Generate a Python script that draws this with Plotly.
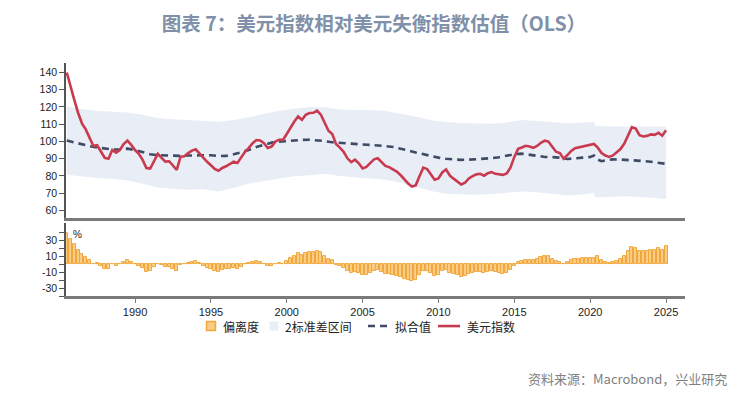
import plotly.graph_objects as go
from plotly.subplots import make_subplots

# ---- data ----
quarters = [1985.5 + 0.25 * i for i in range(159)]

dxy = [
    140, 131.5,
    124, 116.5, 110.5, 107,
    102, 97.5, 97.8, 94.5,
    90.5, 90, 95, 93.5,
    95, 98.5, 100.5, 98,
    95, 92.8, 89.3, 84.5,
    84.2, 88.5, 92.8, 90.5,
    88.3, 88.5, 86, 83.5,
    91.2, 91.4, 93.2, 94.7,
    95.4, 93, 90.2, 88.2,
    86.2, 84, 83, 84.6,
    85.6, 87, 88.3, 87.5,
    90.8, 94, 96.3, 99,
    100.8, 100.6, 99, 96.2,
    97, 99.9, 101, 100.9,
    104.3, 108, 111.5, 114.5,
    112.5, 115.5, 116.5, 116.6,
    117.8, 115.5, 111, 106.2,
    104.3, 98.5, 96.4, 94,
    90.2, 88, 89.4, 87.3,
    84.3, 85.2, 87.4, 89.6,
    90.2, 88.2, 85.8, 85.1,
    83.8, 82.5, 80.5, 77.9,
    75.6, 73.8, 74.5, 79.8,
    84.8, 84, 80.8, 77.8,
    78.5, 82, 83.8, 80.2,
    78.4, 76.8, 75, 76,
    78.5, 79.9, 80.9, 81.2,
    80.1, 81.5, 82.2, 81.2,
    80.8, 80.6, 81.4, 84.9,
    91, 95.7, 96.5, 97.5,
    97.1, 96.3, 97.4, 99.2,
    100.4, 99.9, 96.9, 94,
    93.2, 89.9, 92.1, 94.5,
    96.1, 96.6, 97.2, 97.7,
    98.2, 98.5, 96.4, 93.3,
    91.8, 91, 91.9, 93.7,
    95.6, 98.8, 103.8, 108.3,
    107.5, 103.6, 102.9, 103.2,
    104.1, 103.8, 105, 103.3,
    106.5,
]

deviation = [
    39.3, 31.6,
    24.9, 18.0, 12.5, 9.5,
    4.8, 0.6, 1.3, -1.7,
    -5.5, -5.8, -0.3, -1.9,
    -0.3, 3.1, 4.9, 2.7,
    0.0, -1.7, -4.8, -9.3,
    -9.1, -4.1, 0.9, -1.5,
    -3.8, -3.4, -6.0, -8.8,
    -0.4, -0.3, 1.5, 3.0,
    3.7, 1.0, -2.2, -4.2,
    -6.3, -8.4, -9.3, -7.6,
    -6.6, -5.5, -4.5, -6.0,
    -3.0, -0.3, 1.4, 3.2,
    4.1, 3.2, 0.8, -2.6,
    -2.3, 0.3, 1.1, 0.8,
    4.0, 7.5, 10.8, 13.6,
    11.5, 14.4, 15.3, 15.6,
    16.9, 14.9, 10.8, 6.4,
    4.8, -0.8, -2.7, -5.0,
    -8.7, -10.8, -9.2, -11.2,
    -14.2, -13.1, -10.8, -8.5,
    -7.8, -9.6, -11.8, -12.3,
    -13.4, -14.4, -16.1, -18.3,
    -20.3, -21.7, -20.4, -14.2,
    -8.3, -8.6, -11.6, -14.5,
    -13.4, -9.1, -6.8, -10.5,
    -12.3, -14.0, -16.0, -14.9,
    -12.2, -10.7, -9.7, -9.5,
    -10.9, -9.5, -9.0, -10.3,
    -11.0, -11.7, -11.3, -7.9,
    -1.7, 3.2, 3.9, 5.3,
    5.2, 4.8, 6.4, 8.7,
    10.3, 9.8, 6.6, 3.6,
    2.9, -0.3, 2.6, 5.1,
    6.8, 7.0, 7.3, 7.6,
    7.9, 7.3, 10.5, 5.4,
    3.1, 1.9, 2.6, 4.6,
    6.8, 10.5, 16.2, 21.3,
    20.5, 16.5, 16.1, 16.7,
    18.0, 18.1, 19.9, 18.3,
    22.4,
]

fit_years = [
    1985.5, 1986.0, 1986.5, 1987.0, 1987.5, 1988.0, 1988.5, 1989.0, 1989.5, 1990.0,
    1990.5, 1991.0, 1991.5, 1992.0, 1992.5, 1993.0, 1993.5, 1994.0, 1994.5, 1995.0,
    1995.5, 1996.0, 1996.5, 1997.0, 1997.5, 1998.0, 1998.5, 1999.0, 1999.5, 2000.0,
    2000.5, 2001.0, 2001.5, 2002.0, 2002.5, 2003.0, 2003.5, 2004.0, 2004.5, 2005.0,
    2005.5, 2006.0, 2006.5, 2007.0, 2007.5, 2008.0, 2008.5, 2009.0, 2009.5, 2010.0,
    2010.5, 2011.0, 2011.5, 2012.0, 2012.5, 2013.0, 2013.5, 2014.0, 2014.5, 2015.0,
    2015.5, 2016.0, 2016.5, 2017.0, 2017.5, 2018.0, 2018.5, 2019.0, 2019.5, 2020.0,
    2020.25, 2020.5, 2020.75, 2021.0, 2021.5, 2022.0, 2022.5, 2023.0, 2023.5, 2024.0,
    2024.5, 2025.0,
]
fit_values = [
    100.5, 99.3, 98.2, 97.3, 96.5, 95.8, 95.3, 95.3, 95.8, 95.0,
    93.8, 92.6, 92.0, 91.8, 91.5, 91.6, 91.8, 92.0, 92.2, 92.0,
    91.5, 91.6, 92.5, 93.6, 95.0, 96.8, 98.2, 99.3, 99.9, 100.3,
    100.6, 100.9, 101.0, 100.8, 100.2, 99.5, 99.1, 98.8, 98.5, 98.2,
    98.0, 97.8, 97.3, 96.8, 96.0, 94.8, 93.6, 92.5, 91.4, 90.6,
    89.9, 89.4, 89.3, 89.4, 89.6, 89.9, 90.3, 90.8, 91.8, 92.6,
    92.9, 92.3, 91.5, 91.0, 90.9, 90.6, 89.8, 90.0, 90.6, 91.0,
    91.8, 89.5, 88.5, 89.0, 89.6, 89.5, 89.3, 89.2, 88.6, 88.2,
    87.6, 87.0,
]

band_years = [
    1985.5, 1986.5, 1987.5, 1988.5, 1989.5, 1990.5, 1991.5, 1992.5, 1993.5, 1994.5,
    1995.5, 1996.5, 1997.5, 1998.5, 1999.5, 2000.5, 2001.5, 2002.5, 2003.5, 2004.5,
    2005.5, 2006.5, 2007.5, 2008.5, 2009.5, 2010.5, 2011.5, 2012.5, 2013.5, 2014.5,
    2015.5, 2016.5, 2017.5, 2018.5, 2019.5, 2020.25, 2020.35, 2021.5, 2022.5, 2023.5,
    2024.5, 2025.0,
]
band_upper = [
    120.2, 118.6, 117.8, 117.4, 116.8, 115.5, 113.6, 112.8, 112.4, 112.2,
    111.4, 112.5, 114.0, 116.0, 117.8, 119.0, 120.0, 119.8, 118.5, 118.2,
    118.2, 117.6, 116.2, 114.5, 112.3, 111.2, 110.7, 110.4, 110.2, 111.0,
    112.4, 111.8, 111.0, 110.5, 111.0, 111.4, 108.8, 108.6, 108.6, 108.6,
    108.6, 108.6,
]
band_lower = [
    80.6, 79.6, 78.8, 78.2, 77.3, 75.5, 73.3, 72.5, 72.0, 72.3,
    71.0, 73.0, 75.5, 77.0, 78.5, 79.8, 80.4, 81.2, 80.0, 79.2,
    78.8, 77.8, 76.0, 73.5, 71.2, 69.6, 69.2, 69.1, 69.5, 70.2,
    71.0, 70.5, 69.6, 68.6, 69.3, 70.0, 67.4, 68.0, 68.2, 67.6,
    67.0, 66.6,
]

year_ticks = [1990, 1995, 2000, 2005, 2010, 2015, 2020, 2025]
top_ticks = [60, 70, 80, 90, 100, 110, 120, 130, 140]
bottom_tickvals = [-40, -30, -20, -10, 0, 10, 20, 30, 40]
bottom_ticktext = ["", "-30", "", "-10", "", "10", "", "30", ""]
legend_names = ["偏离度", "2标准差区间", "拟合值", "美元指数"]

COL_BAR = "#F9CD86"
COL_BAR_EDGE = "#F2A73C"
COL_BAND = "#E9EEF6"
COL_FIT = "#3F4B66"
COL_DXY = "#C93A4E"

# ---- figure ----
fig = make_subplots(rows=2, cols=1, shared_xaxes=False,
                    row_heights=[0.665, 0.335], vertical_spacing=0.0)

fig.add_trace(go.Bar(
    x=quarters, y=deviation, name=legend_names[0],
    marker=dict(color=COL_BAR, line=dict(color=COL_BAR_EDGE, width=1)),
    width=0.2,
), row=2, col=1)

fig.add_trace(go.Scatter(
    x=band_years, y=band_lower, mode="lines", line=dict(width=0, color="rgba(0,0,0,0)"),
    hoverinfo="skip",
), row=1, col=1)
fig.add_trace(go.Scatter(
    x=band_years, y=band_upper, mode="lines", line=dict(width=0, color="rgba(0,0,0,0)"),
    fill="tonexty", fillcolor=COL_BAND, name=legend_names[1],
), row=1, col=1)

fig.add_trace(go.Scatter(
    x=fit_years, y=fit_values, mode="lines", name=legend_names[2],
    line=dict(color=COL_FIT, width=2.6, dash="7px,5px"),
), row=1, col=1)

fig.add_trace(go.Scatter(
    x=quarters, y=dxy, mode="lines", name=legend_names[3],
    line=dict(color=COL_DXY, width=2.6),
), row=1, col=1)

xrange = [1985.45, 2026.25]
fig.update_xaxes(range=xrange, showgrid=False, zeroline=False,
                 showline=True, linecolor="#7A7A7A", linewidth=2.5,
                 tickvals=year_ticks, showticklabels=False, ticks="", row=1, col=1)
fig.update_xaxes(range=xrange, showgrid=False, zeroline=False,
                 showline=True, linecolor="#7A7A7A", linewidth=2.5,
                 tickvals=year_ticks, ticks="outside", ticklen=4, tickcolor="#7A7A7A",
                 tickfont=dict(family="Liberation Sans", size=11, color="#222"),
                 row=2, col=1)

fig.update_yaxes(range=[55.6, 145.5], tickvals=top_ticks, showgrid=False, zeroline=False,
                 showline=True, linecolor="#555", linewidth=1.5,
                 ticks="outside", ticklen=5, tickcolor="#555",
                 tickfont=dict(family="Liberation Sans", size=10.5, color="#222"),
                 row=1, col=1)
fig.update_yaxes(range=[-40, 52], tickvals=bottom_tickvals, ticktext=bottom_ticktext,
                 showgrid=False, zeroline=False,
                 showline=True, linecolor="#555", linewidth=1.5,
                 ticks="outside", ticklen=5, tickcolor="#555",
                 tickfont=dict(family="Liberation Sans", size=10.5, color="#222"),
                 row=2, col=1)

# page has an 8px body margin; figure is sized/offset to compensate
fig.update_layout(
    width=734, height=387,
    margin=dict(l=58, r=57, t=55, b=99),
    paper_bgcolor="white", plot_bgcolor="white",
    bargap=0,
    title=dict(text="<b>图表 7：美元指数相对美元失衡指数估值（OLS）</b>",
               x=0.4986, xanchor="center", y=0.958, yanchor="middle",
               font=dict(family="Noto Sans CJK SC", size=19.5, color="#8090A8")),
    showlegend=False,
)

fig.layout.yaxis.domain = [0.335, 1.0]
fig.layout.yaxis2.domain = [0.0, 0.313]

# ---- custom legend (paper coordinates) ----
ly = -0.129
lfont = dict(family="Noto Sans CJK SC", size=12, color="#222")
fig.add_shape(type="rect", xref="paper", yref="paper", x0=0.2270, x1=0.2415,
              y0=ly - 0.0195, y1=ly + 0.0195,
              fillcolor=COL_BAR, line=dict(color=COL_BAR_EDGE, width=1.5))
fig.add_shape(type="rect", xref="paper", yref="paper", x0=0.3288, x1=0.3433,
              y0=ly - 0.0195, y1=ly + 0.0195,
              fillcolor=COL_BAND, line=dict(width=0))
fig.add_shape(type="line", xref="paper", yref="paper", x0=0.4879, x1=0.5234,
              y0=ly, y1=ly, line=dict(color=COL_FIT, width=2.6, dash="7px,5px"))
fig.add_shape(type="line", xref="paper", yref="paper", x0=0.6010, x1=0.6365,
              y0=ly, y1=ly, line=dict(color=COL_DXY, width=2.6))
for name, lx in zip(legend_names, [0.2504, 0.3506, 0.5283, 0.6446]):
    fig.add_annotation(text=name, xref="paper", yref="paper", x=lx, y=ly,
                       xanchor="left", yanchor="middle", showarrow=False, font=lfont)

fig.add_annotation(text="%", xref="paper", yref="paper", x=0.008, y=0.296,
                   xanchor="left", yanchor="top", showarrow=False,
                   font=dict(family="Liberation Sans", size=10, color="#222"))
fig.add_annotation(text="资料来源：Macrobond，兴业研究", xref="paper", yref="paper",
                   x=1.071, y=-0.352, xanchor="right", yanchor="middle", showarrow=False,
                   font=dict(family="Noto Sans CJK SC", size=13, color="#808080"))

fig.write_html("out.html")
